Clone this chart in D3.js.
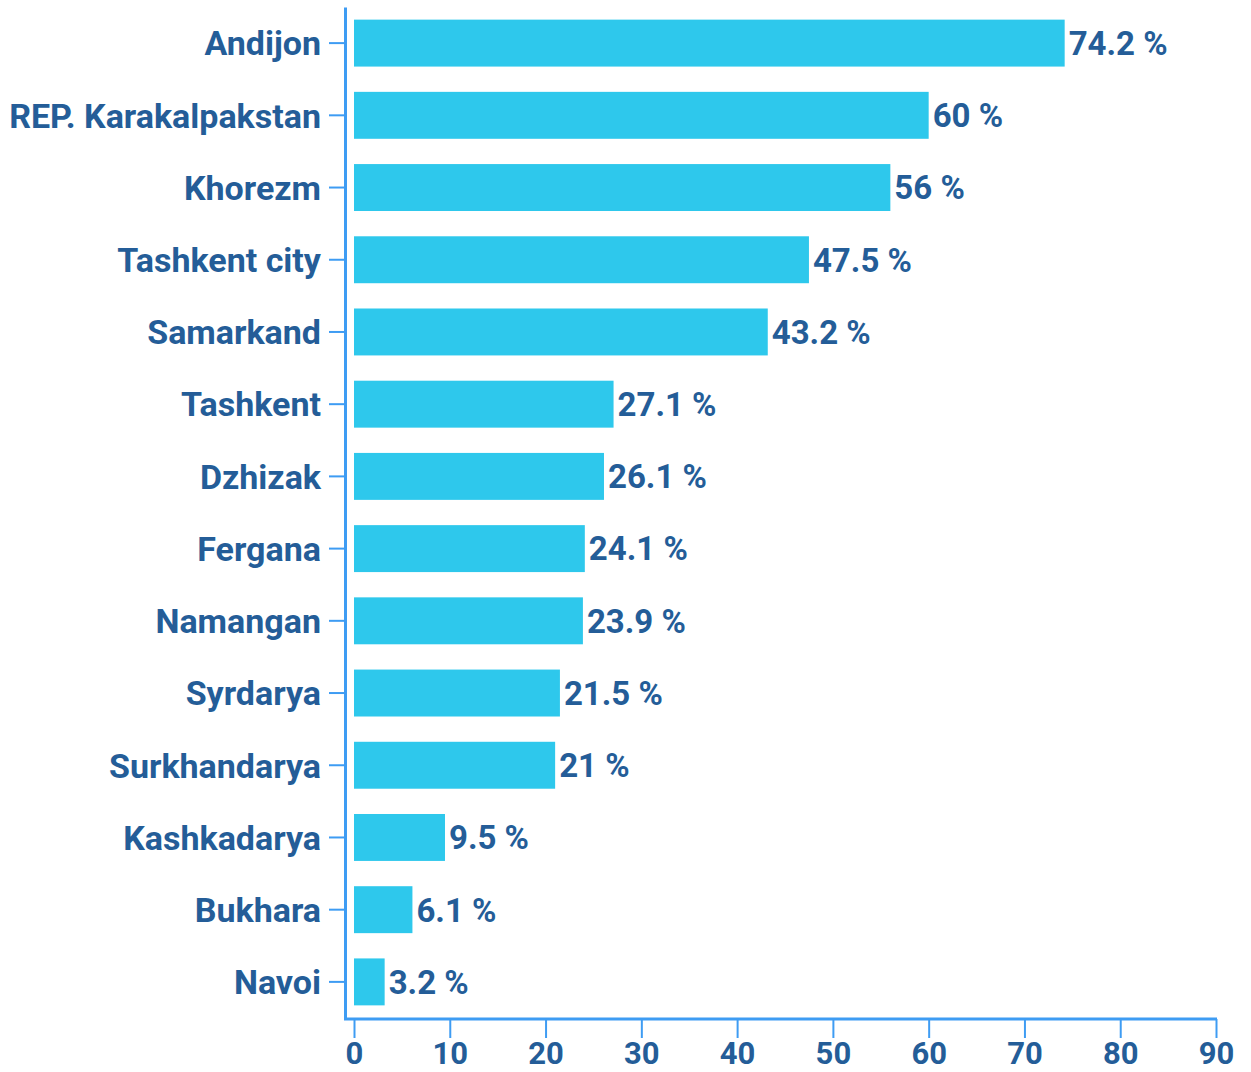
<!DOCTYPE html>
<html>
<head>
<meta charset="utf-8">
<script src="https://cdn.jsdelivr.net/npm/d3@7"></script>
<style>
  body { margin: 0; background: #fff; }
  text { font-family: "Roboto", "Liberation Sans", sans-serif; font-weight: bold; }
</style>
</head>
<body>
<div id="chart"></div>
<script>
const regions = ["Andijon", "REP. Karakalpakstan", "Khorezm", "Tashkent city", "Samarkand", "Tashkent",
  "Dzhizak", "Fergana", "Namangan", "Syrdarya", "Surkhandarya", "Kashkadarya", "Bukhara", "Navoi"]
const shares = [74.2, 60, 56, 47.5, 43.2, 27.1, 26.1, 24.1, 23.9, 21.5, 21, 9.5, 6.1, 3.2]
const xTicks = [0, 10, 20, 30, 40, 50, 60, 70, 80, 90]

const W = 1251, H = 1072
const barColor = "#2ec8ec"
const axisColor = "#3e9cf3"
const textColor = "#245d98"

const svg = d3.select("#chart").append("svg")
    .attr("width", W)
    .attr("height", H)

const x = d3.scaleLinear().domain([0, 90]).range([354, 1216])
const y = d3.scaleBand().domain(regions).range([7, 1018]).paddingInner(0.35).paddingOuter(0.175)

const data = regions.map((r, i) => ({ name: r, value: shares[i] }))

// bars
svg.append("g")
    .selectAll("rect")
    .data(data)
    .enter()
    .append("rect")
    .attr("x", x(0))
    .attr("y", d => y(d.name))
    .attr("width", d => x(d.value) - x(0))
    .attr("height", y.bandwidth())
    .attr("fill", barColor)

// value labels
svg.append("g")
    .selectAll("text")
    .data(data)
    .enter()
    .append("text")
    .attr("x", d => x(d.value) + 4)
    .attr("y", d => y(d.name) + y.bandwidth() / 2)
    .attr("dy", "0.36em")
    .attr("font-size", 33)
    .attr("fill", textColor)
    .text(d => `${d.value} %`)

// y axis
const yAxis = svg.append("g")
    .attr("transform", "translate(345,0)")
    .call(d3.axisLeft(y).tickSize(16).tickSizeOuter(0).tickPadding(8))
yAxis.select(".domain").attr("stroke", axisColor).attr("stroke-width", 3)
yAxis.selectAll(".tick line").attr("stroke", axisColor).attr("stroke-width", 2)
yAxis.selectAll(".tick text")
    .attr("font-size", 34)
    .attr("fill", textColor)
    .attr("dy", "0.36em")

// x axis
const xAxis = svg.append("g")
    .attr("transform", "translate(0,1019)")
    .call(d3.axisBottom(x).tickValues(xTicks).tickSize(19).tickSizeOuter(0).tickPadding(4))
xAxis.select(".domain").remove()
xAxis.append("line")
    .attr("x1", 344).attr("x2", x(90) + 1)
    .attr("stroke", axisColor).attr("stroke-width", 3)
xAxis.selectAll(".tick line").attr("stroke", axisColor).attr("stroke-width", 2)
xAxis.selectAll(".tick text")
    .attr("font-size", 31)
    .attr("fill", textColor)
</script>
</body>
</html>
